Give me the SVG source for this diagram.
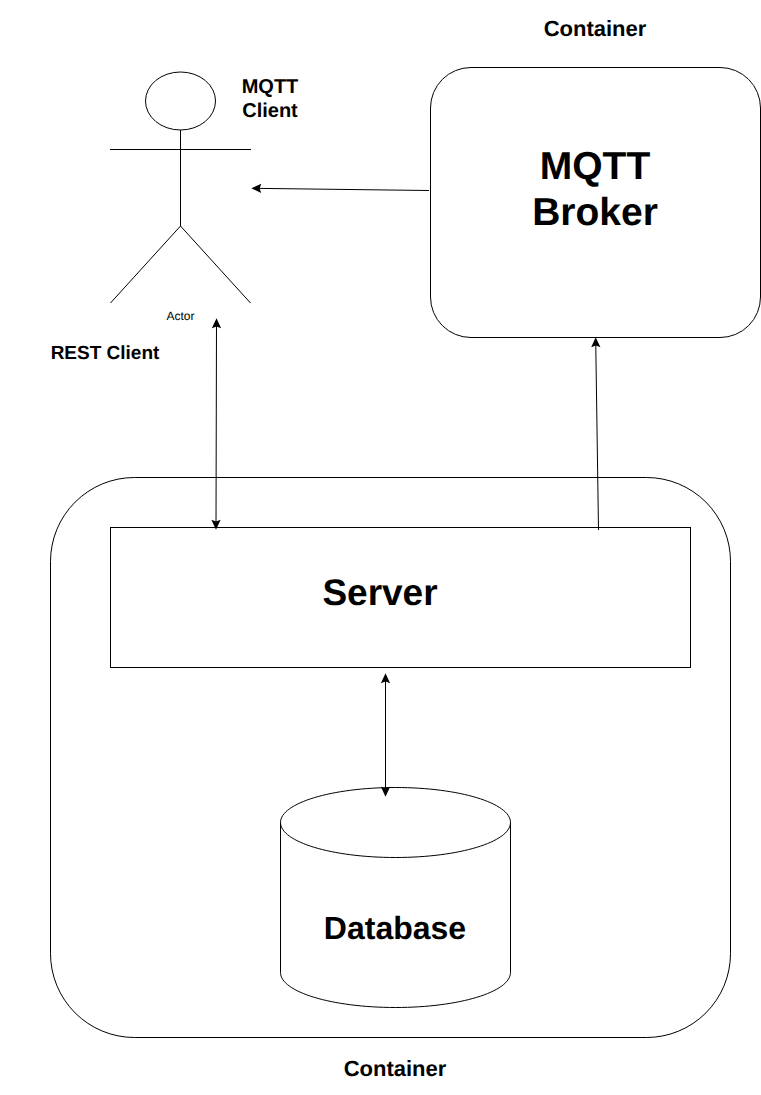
<svg xmlns="http://www.w3.org/2000/svg" width="761" height="1095" viewBox="0 0 761 1095">
<style>
.s{fill:#fff;stroke:#000;stroke-width:1}
.n{fill:none;stroke:#000;stroke-width:1}
text{font-family:"Liberation Sans",Arial,Helvetica,sans-serif;font-weight:bold;text-anchor:middle;fill:#000;text-rendering:geometricPrecision}
.c{stroke:#000;stroke-width:1;fill:none}
</style>
<defs>
<marker id="end" viewBox="0 0 10 10" refX="8" refY="5" markerWidth="11" markerHeight="11" markerUnits="userSpaceOnUse" orient="auto"><path d="M0.500 0.800L9.500 5L0.500 9.200L2 5Z" fill="#000"/></marker>
<marker id="start" viewBox="0 0 10 10" refX="2" refY="5" markerWidth="11" markerHeight="11" markerUnits="userSpaceOnUse" orient="auto"><path d="M9.500 0.800L0.500 5L9.500 9.200L8 5Z" fill="#000"/></marker>
</defs>
<rect width="761" height="1095" fill="#fff"/>
<g id="server-container"><rect class="s" x="50.500" y="477.500" width="680" height="560" rx="84" ry="84"/></g>
<g id="server"><rect class="s" x="110.500" y="527.500" width="580" height="140"/><text x="380" y="605" font-size="37">Server</text></g>
<g id="database"><path class="s" d="M280.500 822.500C280.500 803 332 787.500 395.500 787.500C459 787.500 510.500 803 510.500 822.500V972.500C510.500 992 459 1007.500 395.500 1007.500C332 1007.500 280.500 992 280.500 972.500Z"/><path class="n" d="M280.500 822.500C280.500 842 332 857.500 395.500 857.500C459 857.500 510.500 842 510.500 822.500"/><text x="395" y="939" font-size="32">Database</text></g>
<g id="broker"><rect class="s" x="430.500" y="67.500" width="330" height="270" rx="40.500" ry="40.500"/><text x="595" y="178.500" font-size="39">MQTT</text><text x="595" y="224.500" font-size="39">Broker</text></g>
<g id="actor"><ellipse class="s" cx="180.500" cy="101" rx="35" ry="29"/><path class="n" d="M180.500 130V226M110 149.500H251M110.500 303L180.500 226L250.500 303"/><text x="180.500" y="320" font-size="12" style="font-weight:normal">Actor</text></g>
<g id="labels"><text x="595" y="35.500" font-size="22">Container</text><text x="270" y="93" font-size="20">MQTT</text><text x="270" y="117" font-size="20">Client</text><text x="105" y="359" font-size="19">REST Client</text><text x="395" y="1075.500" font-size="22">Container</text></g>
<g id="connectors">
<path class="c" d="M429 190.500L253 188.300" marker-end="url(#end)"/>
<path class="c" d="M216.500 320L216 528" marker-start="url(#start)" marker-end="url(#end)"/>
<path class="c" d="M598.500 530L595.700 339" marker-end="url(#end)"/>
<path class="c" d="M385.500 675V795" marker-start="url(#start)" marker-end="url(#end)"/>
</g>
</svg>
